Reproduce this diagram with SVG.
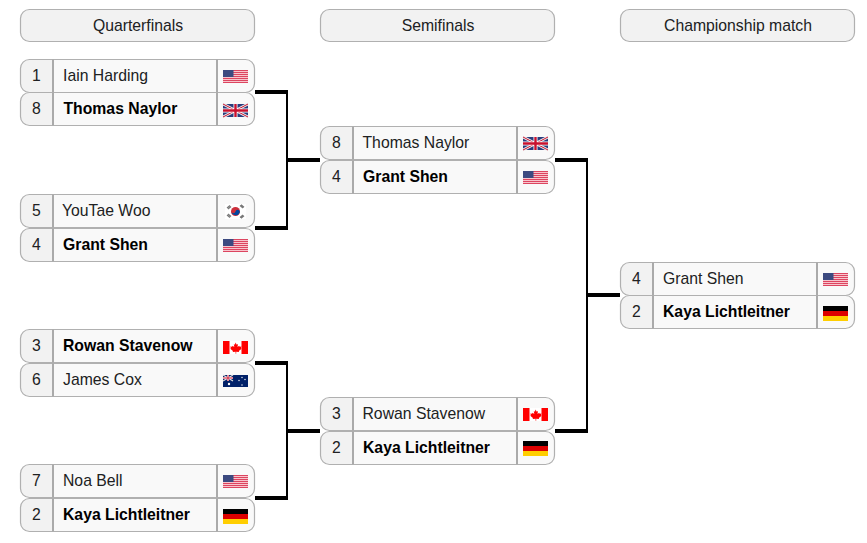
<svg xmlns="http://www.w3.org/2000/svg" width="867" height="543" viewBox="0 0 867 543">
<style>
text{font-family:"Liberation Sans",Arial,sans-serif;font-size:15.75px;fill:#202122}
.b{font-weight:700;fill:#000}
.s{text-anchor:middle}
.h{text-anchor:middle}
.hd{fill:#f2f2f2;stroke:#b0b0b0;stroke-width:1.2}
.line{fill:none;stroke:#b0b0b0;stroke-width:1.2}
.div{fill:none;stroke:#aaa;stroke-width:2}
.seed{fill:#f2f2f2}
.cell{fill:#f9f9f9}
.ch{fill:none;stroke:#000;stroke-width:4}
.cv{fill:none;stroke:#000;stroke-width:2}
</style>
<defs>
<g id="row">
<rect class="cell" x="0.5" y="0.5" width="234" height="33" rx="9"/>
<path class="seed" d="M33 .5H9.500a9 9 0 0 0-9 9v15a9 9 0 0 0 9 9H33z"/>
<rect class="line" x="0.5" y="0.5" width="234" height="33" rx="9"/>
<path class="div" d="M33 .5V33.500M197 .5V33.500"/>
</g>
<g id="us">
<rect width="25" height="13" fill="#f8c4cc"/>
<path d="M0 .5H25M0 2.500H25M0 4.500H25M0 6.500H25M0 8.500H25M0 10.500H25M0 12.500H25" stroke="#dc4560" stroke-width="1"/>
<rect width="10.500" height="7" fill="#3c4a80"/>
</g>
<g id="uk">
<rect width="25" height="13" fill="#2a3c7c"/>
<path d="M0 0L25 13M25 0L0 13" stroke="#eee" stroke-width="2.600"/>
<path d="M0 0L25 13M25 0L0 13" stroke="#c8102e" stroke-width="1"/>
<path d="M12.500 0V13M0 6.500H25" stroke="#fff" stroke-width="4"/>
<path d="M12.500 0V13M0 6.500H25" stroke="#c8102e" stroke-width="2.400"/>
</g>
<g id="kr">
<rect width="21" height="15" fill="#fff"/>
<circle cx="10.500" cy="7.500" r="4.500" fill="#cd2e3a"/>
<path d="M6.200 6.500a4.500 4.500 0 0 0 8.600 2a2.200 2.200 0 0 0-4.300-1a2.200 2.200 0 0 1-4.300-1z" fill="#0047a0"/>
<path d="M2 4L5 1.500M3 5L6 2.500M15 1.500L18 4M16 .8L19 3.300M2 11L5 13.500M3 10L6 12.500M15 13.500L18 11M16 14.200L19 11.700" stroke="#777" stroke-width="1.200"/>
</g>
<g id="ca">
<rect width="25" height="13" fill="#fff"/>
<rect width="6.500" height="13" fill="#f00"/>
<rect x="18.500" width="6.500" height="13" fill="#f00"/>
<path d="M12.500 1.500l1.300 2.200 1.200-.6-.5 3 1.700-1.300.5 1 1.800-.3-.6 1.800.7.5-2.800 2.200.3 1.100-2.900-.4v2h-.6v-2l-2.900.4.3-1.100-2.800-2.200.7-.5-.6-1.800 1.800.3.5-1 1.700 1.300-.5-3 1.200.6z" fill="#f00"/>
</g>
<g id="au">
<rect width="25" height="12" fill="#012169"/>
<path d="M0 0L10 6M10 0L0 6" stroke="#ddd" stroke-width="1.200"/>
<path d="M5 0V6M0 3H10" stroke="#fff" stroke-width="2"/>
<path d="M5 0V6M0 3H10" stroke="#c8102e" stroke-width="1"/>
<g fill="#fff"><circle cx="6" cy="9" r="1.200"/><circle cx="19" cy="2.500" r=".7"/><circle cx="19" cy="10" r=".7"/><circle cx="16" cy="5.500" r=".7"/><circle cx="22" cy="4.500" r=".7"/></g>
</g>
<g id="de">
<rect width="25" height="5" fill="#000"/>
<rect y="5" width="25" height="5" fill="#d00"/>
<rect y="10" width="25" height="5" fill="#ffce00"/>
</g>
</defs>
<rect width="867" height="543" fill="#fff"/>
<g id="connectors">
<path class="ch" d="M255 92H288M255 228H288M288 160H320"/>
<path class="cv" d="M287 90V230"/>
<path class="ch" d="M255 363H288M255 498H288M288 431H320"/>
<path class="cv" d="M287 361V500"/>
<path class="ch" d="M555 160H588M555 431H588M588 295H620"/>
<path class="cv" d="M587 158V433"/>
</g>
<g id="header-quarterfinals"><rect class="hd" x="20.500" y="9.500" width="234" height="32" rx="9"/><text class="h" x="138" y="31">Quarterfinals</text></g>
<g id="header-semifinals"><rect class="hd" x="320.500" y="9.500" width="234" height="32" rx="9"/><text class="h" x="438" y="31">Semifinals</text></g>
<g id="header-final"><rect class="hd" x="620.500" y="9.500" width="234" height="32" rx="9"/><text class="h" x="738" y="31">Championship match</text></g>

<g id="qf1">
<use href="#row" x="20" y="59"/><use href="#row" x="20" y="92"/>
<text class="s" x="36.500" y="81">1</text><text x="63" y="81">Iain Harding</text><use href="#us" x="223" y="70"/>
<text class="s" x="36.500" y="114">8</text><text class="b" x="63.500" y="114">Thomas Naylor</text><use href="#uk" x="223" y="104"/>
</g>
<g id="qf2">
<use href="#row" x="20" y="194"/><use href="#row" x="20" y="228"/>
<text class="s" x="36.500" y="216">5</text><text x="62" y="216">YouTae Woo</text><use href="#kr" x="225" y="204"/>
<text class="s" x="36.500" y="250">4</text><text class="b" x="63" y="250">Grant Shen</text><use href="#us" x="223" y="239"/>
</g>
<g id="qf3">
<use href="#row" x="20" y="329"/><use href="#row" x="20" y="363"/>
<text class="s" x="36.500" y="351">3</text><text class="b" x="63" y="351">Rowan Stavenow</text><use href="#ca" x="223" y="341"/>
<text class="s" x="36.500" y="385">6</text><text x="63" y="385">James Cox</text><use href="#au" x="223" y="375"/>
</g>
<g id="qf4">
<use href="#row" x="20" y="464"/><use href="#row" x="20" y="498"/>
<text class="s" x="36.500" y="486">7</text><text x="63" y="486">Noa Bell</text><use href="#us" x="223" y="475"/>
<text class="s" x="36.500" y="520">2</text><text class="b" x="63" y="520">Kaya Lichtleitner</text><use href="#de" x="223" y="509"/>
</g>
<g id="sf1">
<use href="#row" x="320" y="126"/><use href="#row" x="320" y="160"/>
<text class="s" x="336.500" y="148">8</text><text x="362.500" y="148">Thomas Naylor</text><use href="#uk" x="523" y="137"/>
<text class="s" x="336.500" y="182">4</text><text class="b" x="363" y="182">Grant Shen</text><use href="#us" x="523" y="171"/>
</g>
<g id="sf2">
<use href="#row" x="320" y="397"/><use href="#row" x="320" y="431"/>
<text class="s" x="336.500" y="419">3</text><text x="362.500" y="419">Rowan Stavenow</text><use href="#ca" x="523" y="408"/>
<text class="s" x="336.500" y="453">2</text><text class="b" x="363" y="453">Kaya Lichtleitner</text><use href="#de" x="523" y="441"/>
</g>
<g id="final">
<use href="#row" x="620" y="262"/><use href="#row" x="620" y="295"/>
<text class="s" x="636.500" y="284">4</text><text x="663" y="284">Grant Shen</text><use href="#us" x="823" y="273"/>
<text class="s" x="636.500" y="317">2</text><text class="b" x="663" y="317">Kaya Lichtleitner</text><use href="#de" x="823" y="306"/>
</g>
</svg>
